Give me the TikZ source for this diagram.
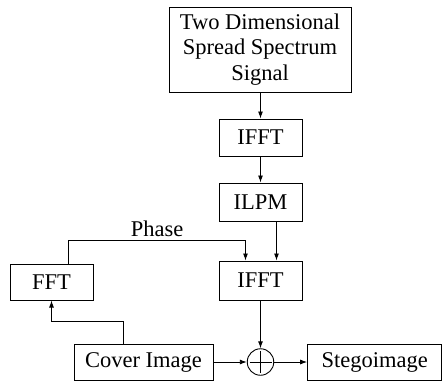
\documentclass[tikz,border=0pt]{standalone}
\usepackage{fontspec}
\setmainfont{Liberation Serif}
\usetikzlibrary{arrows.meta}
\begin{document}
\begin{tikzpicture}[x=1pt,y=-1pt,
  blk/.style={draw,line width=1pt,inner sep=0pt,align=center,font=\fontsize{22.5}{25.5}\selectfont},
  arr/.style={line width=0.9pt,-{Latex[length=7pt,width=5pt]}},
  ln/.style={line width=0.9pt}]
\useasboundingbox (0,0) rectangle (445,381);
\node[blk,minimum width=182pt,minimum height=85pt] (sig) at (260,49.5) {Two Dimensional\\Spread Spectrum\\Signal};
\node[blk,minimum width=83pt,minimum height=37pt] (ifft1) at (260.5,137.5) {IFFT};
\node[blk,minimum width=83pt,minimum height=38pt] (ilpm) at (260.5,202) {ILPM};
\node[blk,minimum width=83pt,minimum height=39pt] (ifft2) at (260.5,280.5) {IFFT};
\node[blk,minimum width=83pt,minimum height=36pt] (fft) at (51.5,282) {FFT};
\node[blk,minimum width=139pt,minimum height=36pt] (cover) at (143.5,362) {Cover Image};
\node[draw,line width=0.9pt,circle,minimum size=26.5pt,inner sep=0pt] (plus) at (260.5,362) {};
\draw[ln] ([xshift=-11pt]plus.center) -- ([xshift=11pt]plus.center);
\draw[ln] ([yshift=-11pt]plus.center) -- ([yshift=11pt]plus.center);
\node[blk,minimum width=134pt,minimum height=36pt] (stego) at (374.7,362) {Stegoimage};
\node[anchor=base,inner sep=0pt,font=\fontsize{22.5}{25.5}\selectfont] (phase) at (157,236.5) {Phase};
\draw[arr] (sig.south -| ifft1) -- (ifft1.north);
\draw[arr] (ifft1) -- (ilpm);
\draw[arr] ([xshift=16pt]ilpm.south) -- ([xshift=16pt]ifft2.north);
\draw[arr] ([xshift=16.5pt]fft.north) |- (245.5,240) -- ([xshift=-15pt]ifft2.north);
\draw[arr] ([xshift=-20.5pt]cover.north) |- (51.5,321) -- (fft.south);
\draw[arr] (ifft2) -- (plus);
\draw[arr] (cover) -- (plus);
\draw[arr] (plus) -- (stego);
\end{tikzpicture}
\end{document}
